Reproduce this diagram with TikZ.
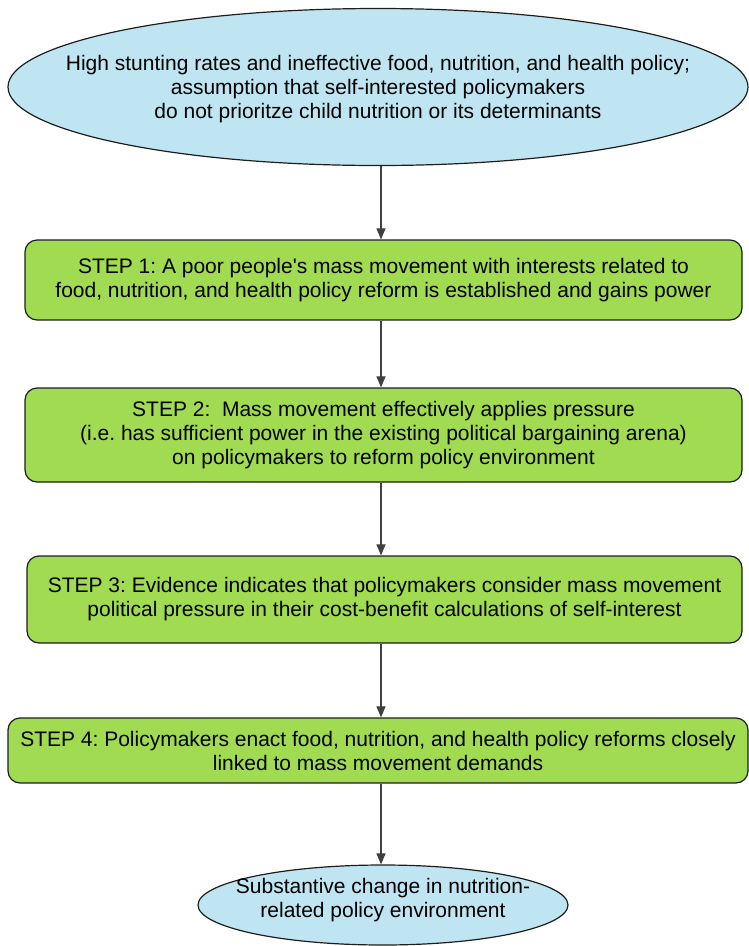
\documentclass[tikz,border=0pt]{standalone}
\usepackage{fontspec}
\setmainfont{Liberation Sans}
\usetikzlibrary{shapes.geometric,arrows.meta}
\definecolor{skyfill}{HTML}{BEE5F1}
\definecolor{leaf}{HTML}{A0DB52}
\definecolor{edge}{HTML}{1E1E1E}
\definecolor{wire}{HTML}{404040}
\frenchspacing
\begin{document}
\begin{tikzpicture}[x=1pt,y=-1pt,
  every node/.style={font=\fontsize{21}{24}\selectfont},
  blob/.style={ellipse, draw=edge, line width=1.2pt, fill=skyfill, inner sep=0pt},
  stepbox/.style={rectangle, rounded corners=12pt, draw=edge, line width=1.2pt,
    fill=leaf, inner sep=0pt, align=center},
  blobtext/.style={align=center, inner sep=0pt},
  link/.style={draw=wire, line width=1.1pt, -{Triangle[length=11pt,width=9pt]}}]
\useasboundingbox (0,0) rectangle (748,946);

% vertical axis along which the connectors run
\coordinate (axis) at (381,0);

% starting situation
\node[blob, minimum width=740pt, minimum height=157pt,
  label={[blobtext, yshift=-2pt]center:High stunting rates and ineffective food, nutrition, and health policy;\\
    assumption that self-interested policymakers\\
    do not prioritze child nutrition or its determinants}] (cause) at (378,87) {};

% the four steps
\node[stepbox, minimum width=717pt, minimum height=80pt] (s1) at (383.5,280)
  {STEP 1: A poor people\textquotesingle s mass movement with interests related to\\
   food, nutrition, and health policy reform is established and gains power};
\node[stepbox, minimum width=717pt, minimum height=94pt] (s2) at (383.5,435)
  {STEP 2:\ \ Mass movement effectively applies pressure\\
   (i.e. has sufficient power in the existing political bargaining arena)\\
   on policymakers to reform policy environment};
\node[stepbox, minimum width=715pt, minimum height=87pt] (s3) at (384.5,599.5)
  {STEP 3: Evidence indicates that policymakers consider mass movement\\
   political pressure in their cost-benefit calculations of self-interest};
\node[stepbox, minimum width=740pt, minimum height=65pt] (s4) at (378,750.5)
  {STEP 4: Policymakers enact food, nutrition, and health policy reforms closely\\
   linked to mass movement demands};

% outcome
\node[blob, minimum width=370pt, minimum height=80pt,
  label={[blobtext, yshift=5pt]center:Substantive change in nutrition-\\
    related policy environment}] (outcome) at (383,905) {};

% connectors
\draw[link] (cause.south -| axis) -- (s1.north -| axis);
\draw[link] (s1.south -| axis) -- (s2.north -| axis);
\draw[link] (s2.south -| axis) -- (s3.north -| axis);
\draw[link] (s3.south -| axis) -- (s4.north -| axis);
\draw[link] (s4.south -| axis) -- (outcome.north -| axis);
\end{tikzpicture}
\end{document}
